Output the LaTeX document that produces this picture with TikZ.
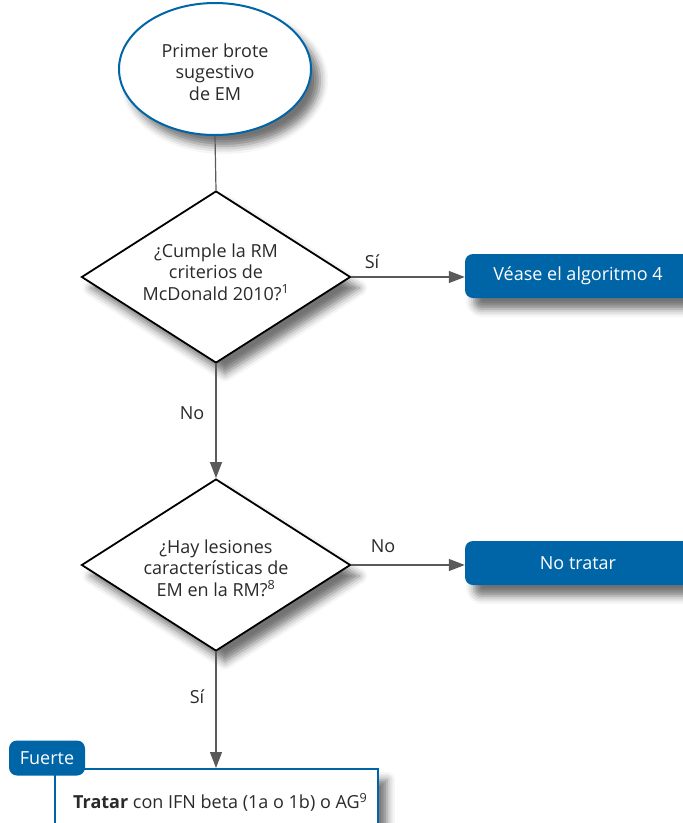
\documentclass[tikz,border=0pt]{standalone}
\usepackage{fontspec}
\setmainfont{Open Sans}
\usetikzlibrary{shapes.geometric,shadows.blur,arrows.meta}
\definecolor{emblue}{HTML}{0065A6}
\definecolor{linegray}{HTML}{5A5A5A}
\definecolor{inkgray}{HTML}{2A2A2A}
\begin{document}
\begin{tikzpicture}[x=1pt,y=-1pt,
  every node/.style={font=\fontsize{18}{21.5}\selectfont},
  shade/.style={blur shadow={shadow xshift=9pt,shadow yshift=-11pt,shadow opacity=55,shadow blur radius=8pt}},
  start/.style={ellipse,draw=emblue,line width=2pt,fill=white,minimum width=192pt,minimum height=132pt,inner sep=0pt,shade},
  decision/.style={diamond,draw=black,line width=1.8pt,fill=white,minimum width=269pt,minimum height=172pt,inner sep=0pt,shade},
  txt/.style={align=center,text=inkgray,inner sep=0pt},
  outcome/.style={rectangle,rounded corners=8pt,fill=emblue,text=white,minimum width=226pt,minimum height=44pt,inner sep=0pt,shade},
  action/.style={rectangle,draw=emblue,line width=2pt,fill=white,minimum width=323pt,minimum height=100pt,inner sep=0pt,anchor=north west,shade},
  tab/.style={rectangle,rounded corners=8pt,fill=emblue,text=white,minimum width=76pt,minimum height=35pt,inner sep=0pt},
  flow/.style={draw=linegray,line width=1.2pt},
  arrow/.style={flow,-{Triangle[length=16pt,width=12pt]}},
  edgelabel/.style={text=inkgray,inner sep=0pt}
]
\useasboundingbox (0,0) rectangle (683,823);
\clip (0,0) rectangle (683,823);

% shapes
\node[start] (s) at (215,69) {};
\node[txt] (st) at (215,72) {Primer brote\\sugestivo\\de EM};

\node[decision] (d1) at (216,277) {};
\node[txt] (d1t) at (216,272) {¿Cumple la RM\\criterios de\\McDonald 2010?\textsuperscript{1}};

\node[decision] (d2) at (216,565) {};
\node[txt] (d2t) at (216,568) {¿Hay lesiones\\características de\\EM en la RM?\textsuperscript{8}};

\node[outcome] (v4) at (578,276) {Véase el algoritmo 4};
\node[outcome] (nt) at (578,563) {No tratar};

\node[action] (tr) at (54,768) {};
\node[txt,anchor=west] (trt) at (73,802) {\textbf{Tratar} con IFN beta (1a o 1b) o AG\textsuperscript{9}};
\node[tab] (fu) at (47,758) {Fuerte};

% connectors
\draw[flow] (s.south) -- (d1.north);
\draw[arrow] (d1.east) -- (v4.west |- d1.east);
\draw[arrow] (d1.south) -- (d2.north);
\draw[arrow] (d2.east) -- (nt.west |- d2.east);
\draw[arrow] (d2.south) -- (tr.north -| d2.south);

% connector labels
\node[edgelabel] (l1) at (372,262) {Sí};
\node[edgelabel] (l2) at (192,413) {No};
\node[edgelabel] (l3) at (383,546) {No};
\node[edgelabel] (l4) at (197,697) {Sí};
\end{tikzpicture}
\end{document}
